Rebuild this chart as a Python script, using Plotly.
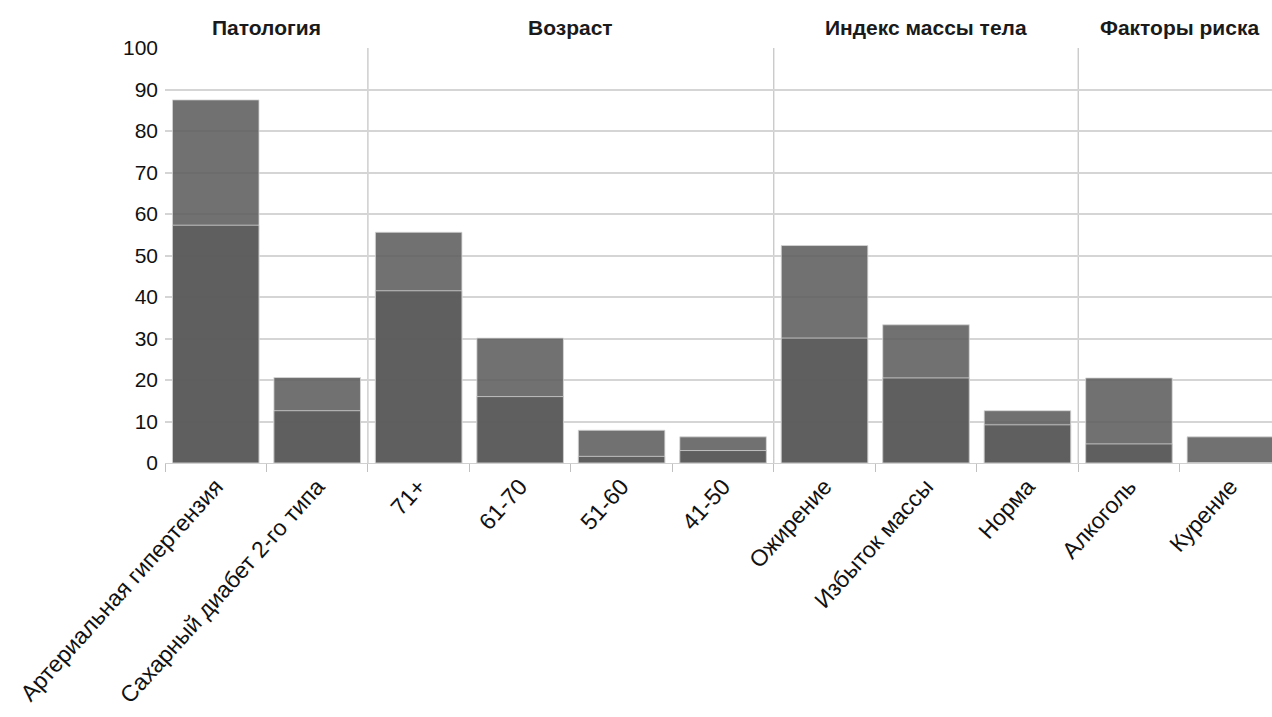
import plotly.graph_objects as go

categories = ["Артериальная гипертензия", "Сахарный диабет 2-го типа", "71+", "61-70", "51-60", "41-50",
              "Ожирение", "Избыток массы", "Норма", "Алкоголь", "Курение"]
total_values = [87.5, 20.6, 55.6, 30.1, 7.9, 6.3, 52.4, 33.3, 12.6, 20.5, 6.3]
lower_values = [57.3, 12.6, 41.5, 16.0, 1.6, 3.0, 30.1, 20.5, 9.2, 4.6, 0.0]
group_names = ["Патология", "Возраст", "Индекс массы тела", "Факторы риска"]
group_sizes = [2, 4, 3, 2]

FONT = "Liberation Sans, Arial, sans-serif"
bar_color = "rgba(92,92,92,0.87)"
edge = dict(color="rgba(215,215,215,0.8)", width=1)

fig = go.Figure()
fig.add_trace(go.Bar(x=categories, y=total_values, marker=dict(color=bar_color, line=edge), showlegend=False))
fig.add_trace(go.Bar(x=categories, y=lower_values, marker=dict(color=bar_color, line=edge), showlegend=False))

shapes = []
annotations = []
start = 0
for gi, (name, size) in enumerate(zip(group_names, group_sizes)):
    center = start + (size - 1) / 2
    annotations.append(dict(x=center, xref="x", y=1.05, yref="paper", text=name, showarrow=False,
                            xanchor="center", yanchor="middle",
                            font=dict(family=FONT, size=21, color="#1a1a1a", weight="bold")))
    if gi > 0:
        shapes.append(dict(type="line", xref="x", yref="y", x0=start - 0.5, x1=start - 0.5, y0=0, y1=100,
                           line=dict(color="#b5b5b5", width=1), layer="below"))
    start += size

fig.update_layout(
    width=1272, height=717,
    margin=dict(l=165, r=0, t=48, b=254),
    barmode="overlay", bargap=0.147,
    plot_bgcolor="white", paper_bgcolor="white",
    font=dict(family=FONT, size=22, color="#111"),
    shapes=shapes, annotations=annotations,
    xaxis=dict(range=[-0.5, 10.41], tickangle=-48, tickson="boundaries", ticks="outside", ticklen=8,
               tickcolor="#c0c0c0", showgrid=False, showline=True, linecolor="#d0d0d0",
               tickfont=dict(family=FONT, size=23, color="#111")),
    yaxis=dict(range=[0, 100], dtick=10, showgrid=True, gridcolor="#d5d5d5", gridwidth=2,
               zeroline=False, tickfont=dict(family=FONT, size=21, color="#111"), ticks="",
               ticklabelstandoff=6),
)

fig.write_html("out.html")
